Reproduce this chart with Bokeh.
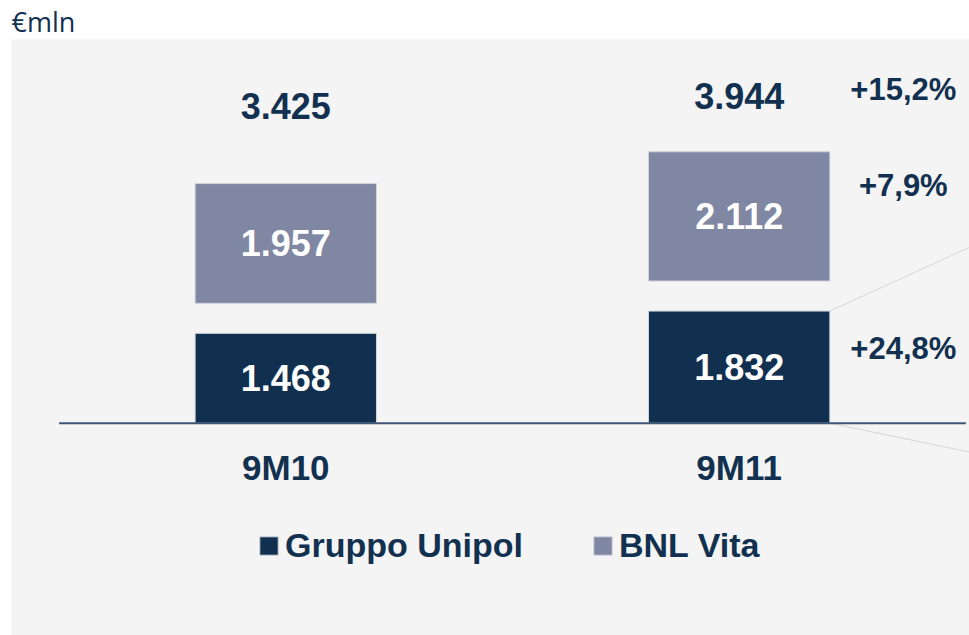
from bokeh.plotting import figure
from bokeh.models import Range1d, ColumnDataSource, Legend, LegendItem
from bokeh.core.properties import value
from bokeh.embed import file_html
from bokeh.resources import INLINE

# ---- data ----
periods = ["9M10", "9M11"]
unipol = [1468, 1832]
bnl_vita = [1957, 2112]
totals = [3425, 3944]
series_names = ["Gruppo Unipol", "BNL Vita"]
unit_label = "€mln"

# ---- styles ----
NAVY = "#11304f"
GREY = "#7f87a2"
TEXT = "#12304f"
PANEL = "#f4f4f4"
BASE = "#3f5675"
EDGE = "#cfd3dd"
FONT = "Liberation Sans"
GAP = 491          # visual gap between the two stacked segments (data units)
BAR_W = 0.4


def fmt(v):
    return f"{v:,}".replace(",", ".")


def growth(a, b):
    return "+" + f"{(b / a - 1) * 100:.1f}".replace(".", ",") + "%"


xs = list(range(len(periods)))
bnl_bottom = [u + GAP for u in unipol]
bnl_top = [u + GAP + b for u, b in zip(unipol, bnl_vita)]

p = figure(width=969, height=635, output_backend="svg", toolbar_location=None,
           x_range=Range1d(-0.605, 1.508), y_range=Range1d(-3470, 6270),
           x_axis_location=None, y_axis_location=None,
           min_border_left=11, min_border_right=0, min_border_bottom=0,
           min_border_top=36)
p.extra_y_ranges = {"totals": Range1d(-22693, 6712)}
p.grid.visible = False
p.outline_line_color = None
p.background_fill_color = PANEL
p.border_fill_color = "white"

p.title.text = unit_label
p.title.text_font = "Open Sans"
p.title.text_font_style = "normal"
p.title.text_font_size = "27px"
p.title.text_color = TEXT
p.title.standoff = 0

src = ColumnDataSource(dict(x=xs, uni=unipol, bb=bnl_bottom, bt=bnl_top))

r_uni = p.vbar(x="x", width=BAR_W, bottom=0, top="uni", source=src,
               fill_color=NAVY, line_color=EDGE, line_width=1)
r_bnl = p.vbar(x="x", width=BAR_W, bottom="bb", top="bt", source=src,
               fill_color=GREY, line_color=EDGE, line_width=1)

# callout lines from the 9M11 Gruppo Unipol bar
last = xs[-1]
cx = last + BAR_W / 2
p.segment(x0=[cx, cx], y0=[unipol[-1], 0], x1=[cx + 0.31, cx + 0.31],
          y1=[unipol[-1] + 1048, -475], line_color="#d6d6d6", line_width=1)

# baseline
p.line(x=[xs[0] - 0.5, xs[-1] + 0.5], y=[0, 0], line_color=BASE, line_width=2)

# values inside bars
p.text(x=xs, y=[u / 2 for u in unipol], text=[fmt(v) for v in unipol],
       text_color="white", text_font=value(FONT), text_font_style="bold",
       text_font_size="36px", text_align="center", text_baseline="middle")
p.text(x=xs, y=[bb + b / 2 for bb, b in zip(bnl_bottom, bnl_vita)],
       text=[fmt(v) for v in bnl_vita],
       text_color="white", text_font=value(FONT), text_font_style="bold",
       text_font_size="36px", text_align="center", text_baseline="middle")

# totals
p.text(x=xs, y=totals, text=[fmt(v) for v in totals], y_range_name="totals",
       text_color=TEXT, text_font=value(FONT), text_font_style="bold",
       text_font_size="36px", text_align="center", text_baseline="middle")

# category labels
p.text(x=xs, y=[0] * len(xs), text=periods, y_offset=44,
       text_color=TEXT, text_font=value(FONT), text_font_style="bold",
       text_font_size="35px", text_align="center", text_baseline="middle")

# growth labels
gx = last + 0.362
p.text(x=[gx], y=[totals[-1]], text=[growth(totals[0], totals[-1])],
       y_range_name="totals", y_offset=-6,
       text_color=TEXT, text_font=value(FONT), text_font_style="bold",
       text_font_size="31px", text_align="center", text_baseline="middle")
p.text(x=[gx, gx],
       y=[bnl_bottom[-1] + bnl_vita[-1] / 2, unipol[-1] / 2],
       text=[growth(bnl_vita[0], bnl_vita[-1]), growth(unipol[0], unipol[-1])],
       y_offset=[-31, -19],
       text_color=TEXT, text_font=value(FONT), text_font_style="bold",
       text_font_size="31px", text_align="center", text_baseline="middle")

legend = Legend(items=[LegendItem(label=series_names[0], renderers=[r_uni]),
                       LegendItem(label=series_names[1], renderers=[r_bnl])],
                orientation="horizontal", location=(246, 70),
                glyph_width=23, glyph_height=23, label_standoff=5, spacing=68,
                padding=0, margin=0, border_line_alpha=0,
                background_fill_alpha=0,
                label_text_font=FONT, label_text_font_style="bold",
                label_text_font_size="34px", label_text_color=TEXT)
p.add_layout(legend, "center")

open("out.html", "w").write(file_html(p, INLINE))
